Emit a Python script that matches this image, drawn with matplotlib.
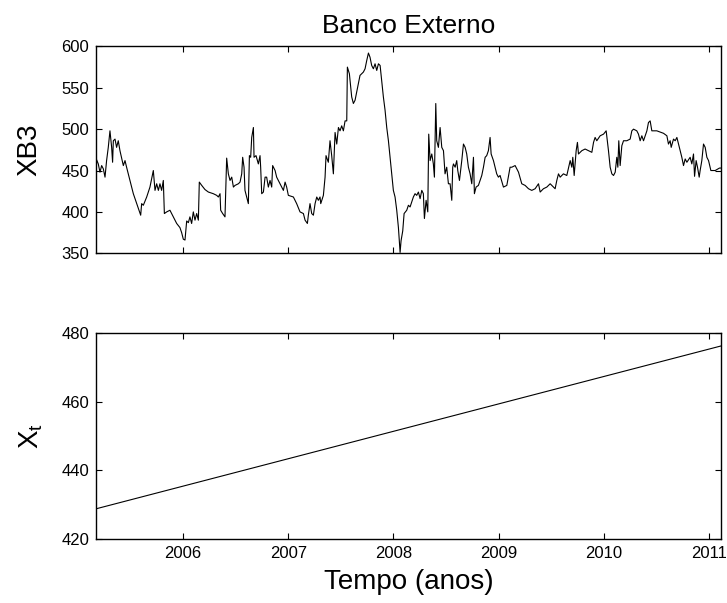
import matplotlib
matplotlib.use('Agg')
import matplotlib.pyplot as plt

plt.rcParams['font.family'] = ['Liberation Sans', 'DejaVu Sans']

# XB3 (decimal years, quoted value)
anos = [
    2005.173, 2005.179, 2005.195, 2005.211, 2005.227, 2005.243, 2005.259, 2005.274, 2005.290, 2005.306,
    2005.322, 2005.331, 2005.338, 2005.354, 2005.369, 2005.385, 2005.401, 2005.433, 2005.449, 2005.464,
    2005.496, 2005.528, 2005.560, 2005.598, 2005.607, 2005.623, 2005.655, 2005.686, 2005.718, 2005.734,
    2005.750, 2005.766, 2005.781, 2005.797, 2005.813, 2005.823, 2005.845, 2005.876, 2005.908, 2005.940,
    2005.971, 2005.987, 2006.003, 2006.019, 2006.035, 2006.051, 2006.066, 2006.082, 2006.098, 2006.114,
    2006.130, 2006.146, 2006.155, 2006.178, 2006.209, 2006.241, 2006.288, 2006.320, 2006.336, 2006.352,
    2006.358, 2006.377, 2006.399, 2006.415, 2006.431, 2006.447, 2006.463, 2006.479, 2006.494, 2006.526,
    2006.542, 2006.558, 2006.567, 2006.580, 2006.589, 2006.605, 2006.621, 2006.631, 2006.643, 2006.653,
    2006.669, 2006.675, 2006.694, 2006.716, 2006.732, 2006.738, 2006.748, 2006.764, 2006.780, 2006.795,
    2006.811, 2006.827, 2006.843, 2006.852, 2006.875, 2006.890, 2006.922, 2006.954, 2006.970, 2006.985,
    2007.001, 2007.049, 2007.080, 2007.112, 2007.144, 2007.160, 2007.182, 2007.191, 2007.207, 2007.223,
    2007.239, 2007.255, 2007.271, 2007.286, 2007.302, 2007.309, 2007.334, 2007.350, 2007.359, 2007.381,
    2007.397, 2007.413, 2007.429, 2007.445, 2007.461, 2007.477, 2007.492, 2007.508, 2007.524, 2007.540,
    2007.556, 2007.562, 2007.581, 2007.603, 2007.619, 2007.635, 2007.651, 2007.667, 2007.682, 2007.698,
    2007.714, 2007.730, 2007.746, 2007.762, 2007.777, 2007.793, 2007.809, 2007.825, 2007.841, 2007.857,
    2007.873, 2007.888, 2007.904, 2007.920, 2007.936, 2007.952, 2007.968, 2007.983, 2007.999, 2008.015,
    2008.031, 2008.047, 2008.063, 2008.072, 2008.088, 2008.101, 2008.126, 2008.142, 2008.158, 2008.189,
    2008.205, 2008.221, 2008.237, 2008.253, 2008.269, 2008.284, 2008.294, 2008.310, 2008.326, 2008.335,
    2008.348, 2008.364, 2008.379, 2008.389, 2008.402, 2008.411, 2008.427, 2008.443, 2008.459, 2008.475,
    2008.490, 2008.506, 2008.522, 2008.538, 2008.554, 2008.563, 2008.570, 2008.586, 2008.601, 2008.611,
    2008.627, 2008.649, 2008.665, 2008.681, 2008.696, 2008.712, 2008.728, 2008.744, 2008.760, 2008.769,
    2008.785, 2008.807, 2008.839, 2008.855, 2008.871, 2008.886, 2008.902, 2008.918, 2008.928, 2008.950,
    2008.981, 2008.997, 2009.013, 2009.045, 2009.077, 2009.108, 2009.124, 2009.156, 2009.188, 2009.219,
    2009.251, 2009.283, 2009.314, 2009.346, 2009.378, 2009.394, 2009.425, 2009.457, 2009.489, 2009.520,
    2009.536, 2009.552, 2009.568, 2009.584, 2009.615, 2009.647, 2009.679, 2009.695, 2009.704, 2009.717,
    2009.736, 2009.748, 2009.758, 2009.790, 2009.821, 2009.853, 2009.885, 2009.901, 2009.916, 2009.932,
    2009.964, 2009.996, 2010.021, 2010.043, 2010.059, 2010.075, 2010.091, 2010.107, 2010.122, 2010.132,
    2010.141, 2010.154, 2010.170, 2010.186, 2010.217, 2010.249, 2010.265, 2010.281, 2010.312, 2010.328,
    2010.344, 2010.360, 2010.376, 2010.392, 2010.408, 2010.423, 2010.439, 2010.455, 2010.502, 2010.566,
    2010.598, 2010.613, 2010.629, 2010.639, 2010.661, 2010.677, 2010.693, 2010.709, 2010.724, 2010.740,
    2010.756, 2010.772, 2010.788, 2010.819, 2010.835, 2010.851, 2010.861, 2010.876, 2010.889, 2010.905,
    2010.914, 2010.930, 2010.946, 2010.962, 2010.978, 2010.994, 2011.016, 2011.057, 2011.098, 2011.114,
]
xb3 = [
    438, 463, 458, 448, 456, 452, 442, 462, 478, 498,
    478, 460, 486, 488, 478, 486, 474, 456, 462, 454,
    438, 422, 410, 396, 410, 408, 418, 430, 450, 426,
    434, 426, 434, 426, 438, 398, 400, 402, 394, 386,
    381, 375, 367, 366, 389, 387, 394, 386, 400, 390,
    398, 390, 436, 432, 427, 424, 422, 420, 418, 422,
    402, 398, 394, 465, 446, 438, 442, 430, 432, 434,
    436, 446, 466, 454, 426, 418, 410, 468, 466, 490,
    502, 466, 468, 458, 468, 454, 422, 424, 442, 442,
    430, 438, 430, 456, 450, 442, 434, 426, 436, 430,
    420, 418, 410, 400, 398, 390, 386, 396, 410, 398,
    396, 410, 418, 414, 418, 410, 420, 442, 468, 460,
    486, 468, 446, 496, 482, 502, 498, 504, 498, 510,
    510, 575, 567, 539, 531, 535, 545, 555, 565, 567,
    569, 573, 583, 592, 587, 577, 573, 579, 571, 579,
    577, 559, 539, 523, 502, 486, 466, 446, 426, 418,
    402, 381, 351, 365, 377, 398, 402, 408, 406, 418,
    422, 420, 424, 416, 426, 422, 392, 414, 400, 494,
    462, 470, 458, 442, 531, 486, 478, 502, 478, 474,
    446, 454, 434, 434, 414, 454, 458, 454, 462, 450,
    438, 462, 482, 478, 470, 454, 446, 434, 466, 422,
    430, 432, 444, 454, 466, 468, 474, 490, 470, 462,
    446, 442, 444, 430, 432, 454, 454, 456, 448, 434,
    432, 428, 426, 428, 434, 424, 428, 430, 434, 430,
    428, 438, 446, 442, 446, 444, 462, 454, 466, 444,
    474, 484, 470, 474, 476, 474, 472, 484, 490, 486,
    492, 494, 498, 474, 454, 446, 444, 448, 466, 454,
    486, 456, 480, 486, 486, 488, 498, 500, 498, 494,
    486, 492, 486, 492, 498, 508, 510, 498, 498, 495,
    492, 482, 486, 478, 488, 486, 490, 482, 474, 466,
    456, 464, 460, 466, 458, 470, 443, 462, 454, 442,
    450, 462, 482, 478, 466, 462, 450, 450, 453, 453,
]

# linear trend X_t, end points
tend_anos = [2005.173, 2011.114]
tend_xt = [428.8, 476.2]

anos_ticks = [2006, 2007, 2008, 2009, 2010, 2011]
xb3_ticks = [350, 400, 450, 500, 550, 600]
xt_ticks = [420, 440, 460, 480]

fig = plt.figure(figsize=(7.27, 6.03), dpi=100)
ax1 = fig.add_axes([0.132, 0.580, 0.860, 0.343])
ax2 = fig.add_axes([0.132, 0.106, 0.860, 0.342])

ax1.plot(anos, xb3, color='black', lw=0.8)
ax2.plot(tend_anos, tend_xt, color='black', lw=0.8)

for ax in (ax1, ax2):
    ax.set_xlim(2005.173, 2011.114)
    ax.set_xticks(anos_ticks)
    ax.tick_params(direction='in', top=True, right=True, length=4, width=0.8,
                   labelsize=12, pad=5)
    for s in ax.spines.values():
        s.set_linewidth(1.0)

ax1.set_ylim(350, 600)
ax1.set_yticks(xb3_ticks)
ax1.set_xticklabels([])
ax1.set_ylabel('XB3', fontsize=20)
ax1.yaxis.set_label_coords(-0.086, 0.5)
ax1.set_title('Banco Externo', fontsize=19, pad=10)

ax2.set_ylim(420, 480)
ax2.set_yticks(xt_ticks)
ax2.set_ylabel('X$_\\mathregular{t}$', fontsize=20)
ax2.yaxis.set_label_coords(-0.082, 0.5)
ax2.set_xlabel('Tempo (anos)', fontsize=20)
ax2.xaxis.set_label_coords(0.5, -0.145)

fig.savefig('out.png', dpi=100)
